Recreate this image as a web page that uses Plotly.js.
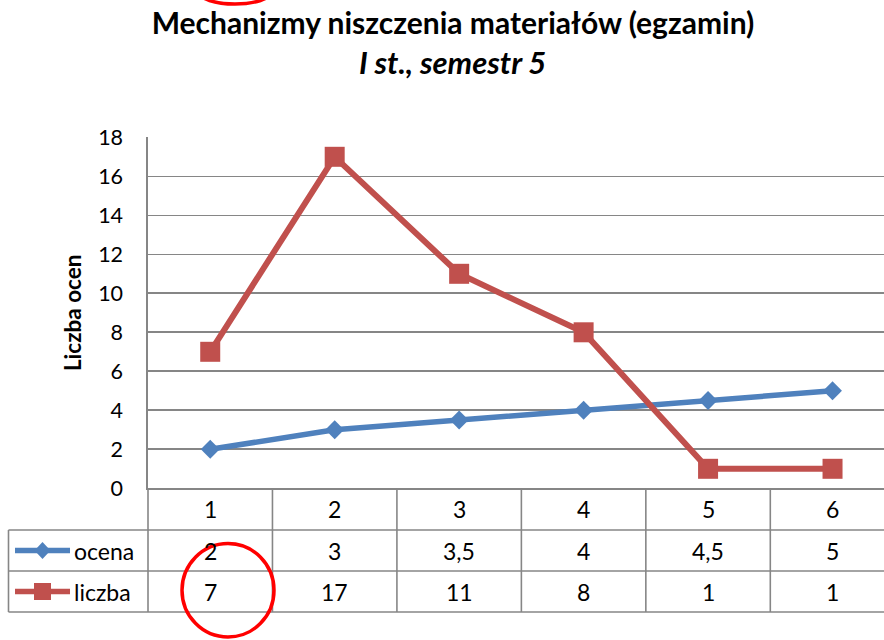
<!DOCTYPE html>
<html><head><meta charset="utf-8">
<script src="https://cdn.plot.ly/plotly-3.0.1.min.js"></script>
<style>html,body{margin:0;padding:0;background:#fff}#chart{width:884px;height:640px}</style>
</head><body><div id="chart"></div>
<script>
// ---- data ----
const categories = [1, 2, 3, 4, 5, 6];
const seriesNames = ['ocena', 'liczba'];
const ocena = [2, 3, 3.5, 4, 4.5, 5];
const liczba = [7, 17, 11, 8, 1, 1];
const yTicks = [0, 2, 4, 6, 8, 10, 12, 14, 16, 18];
const titleText = 'Mechanizmy niszczenia materiałów (egzamin)';
const subtitleText = 'I st., semestr 5';
const yTitle = 'Liczba ocen';

// ---- layout helpers (pixel -> paper) ----
const W = 884, H = 640;
const px = x => x / W;
const py = y => 1 - y / H;
const FONT = 'Lato, "Open Sans", sans-serif';
const GRID = '#868686';
const BLUE = '#4F81BD', RED = '#C0504D';
const fmt = v => String(v).replace('.', ',');

const plotLeft = 148, plotTop = 137.3, plotBottom = 488.3, catW = 124.46;
const rowTops = [488.3, 530, 571, 612];

const traces = [
  {x: categories, y: ocena, name: seriesNames[0], type: 'scatter', mode: 'lines+markers',
   line: {color: BLUE, width: 5.5}, marker: {symbol: 'diamond', size: 14.5, color: BLUE},
   showlegend: false, cliponaxis: false},
  {x: categories, y: liczba, name: seriesNames[1], type: 'scatter', mode: 'lines+markers',
   line: {color: RED, width: 6}, marker: {symbol: 'square', size: 20, color: RED},
   showlegend: false, cliponaxis: false}
];

const shapes = [];
const annotations = [];
const lineStyle = {color: GRID, width: 1.6};

// table horizontal lines
[rowTops[1], rowTops[2], rowTops[3]].forEach(yy => shapes.push({
  type: 'line', xref: 'paper', yref: 'paper', x0: px(8.5), x1: 1, y0: py(yy), y1: py(yy), line: lineStyle}));
// left border of legend column
shapes.push({type: 'line', xref: 'paper', yref: 'paper', x0: px(8.5), x1: px(8.5),
  y0: py(rowTops[1]), y1: py(rowTops[3]), line: lineStyle});
// left border of the value columns
shapes.push({type: 'line', xref: 'paper', yref: 'paper', x0: px(plotLeft), x1: px(plotLeft),
  y0: py(rowTops[0]), y1: py(rowTops[3]), line: lineStyle});
// category boundaries
categories.forEach(c => shapes.push({type: 'line', xref: 'x', yref: 'paper', x0: c + 0.5, x1: c + 0.5,
  y0: py(rowTops[0]), y1: py(rowTops[3]), line: lineStyle}));

// table text
const cellFont = {family: FONT, size: 23, color: '#000'};
const rowMid = i => py((rowTops[i] + rowTops[i + 1]) / 2);
const cell = (x, y, text) => ({xref: 'x', yref: 'paper', x: x, y: y, text: text, showarrow: false,
  xanchor: 'center', yanchor: 'middle', font: cellFont});
categories.forEach((c, i) => {
  annotations.push(cell(c, rowMid(0), String(c)));
  annotations.push(cell(c, rowMid(1), fmt(ocena[i])));
  annotations.push(cell(c, rowMid(2), fmt(liczba[i])));
});

// legend keys in the table
const keyColors = [BLUE, RED];
seriesNames.forEach((n, k) => {
  const cy = (rowTops[k + 1] + rowTops[k + 2]) / 2;
  shapes.push({type: 'line', xref: 'paper', yref: 'paper', x0: px(15), x1: px(70), y0: py(cy), y1: py(cy),
    line: {color: keyColors[k], width: 5.5}});
  if (k === 0) {
    const cx = 42.5, hw = 8, hh = 8.5;
    shapes.push({type: 'path', xref: 'paper', yref: 'paper',
      path: `M ${px(cx)},${py(cy - hh)} L ${px(cx + hw)},${py(cy)} L ${px(cx)},${py(cy + hh)} L ${px(cx - hw)},${py(cy)} Z`,
      fillcolor: keyColors[k], line: {width: 0}});
  } else {
    const cx = 42.5, h = 8.5;
    shapes.push({type: 'rect', xref: 'paper', yref: 'paper', x0: px(cx - h), x1: px(cx + h), y0: py(cy + h), y1: py(cy - h),
      fillcolor: keyColors[k], line: {width: 0}});
  }
  annotations.push({xref: 'paper', yref: 'paper', x: px(72), y: py(cy), xanchor: 'left', yanchor: 'middle',
    text: n, showarrow: false, font: cellFont});
});

// subtitle
annotations.push({xref: 'paper', yref: 'paper', x: px(453), y: py(62), xanchor: 'center', yanchor: 'middle',
  text: '<b><i>' + subtitleText + '</i></b>', showarrow: false, font: {family: FONT, size: 31, color: '#000'}});

// red hand-drawn markup circles
shapes.push({type: 'circle', xref: 'paper', yref: 'paper', x0: px(182), x1: px(274), y0: py(637), y1: py(543.5),
  line: {color: '#FF0000', width: 3.5}});
shapes.push({type: 'circle', xref: 'paper', yref: 'paper', x0: px(199), x1: px(271), y0: py(4), y1: py(-20),
  line: {color: '#FF0000', width: 3.5}});

const layout = {
  width: W, height: H,
  margin: {l: 0, r: 0, t: 0, b: 0},
  paper_bgcolor: '#fff', plot_bgcolor: '#fff',
  showlegend: false,
  title: {text: '<b>' + titleText + '</b>',
    font: {family: FONT, size: 30, color: '#000'}, x: px(453), xanchor: 'center',
    yref: 'container', y: py(23), yanchor: 'middle'},
  xaxis: {domain: [px(plotLeft), 1], range: [0.5, 0.5 + (W - plotLeft) / catW],
    showgrid: false, zeroline: false, showticklabels: false, ticks: '',
    showline: true, linecolor: GRID, linewidth: 1.6, fixedrange: true},
  yaxis: {domain: [py(plotBottom), py(plotTop)], range: [0, 18], tickvals: yTicks,
    showgrid: true, gridcolor: GRID, gridwidth: 1.6, zeroline: false,
    showline: true, linecolor: GRID, linewidth: 1.6, ticks: '', ticklabelstandoff: 19,
    tickfont: {family: FONT, size: 21.5, color: '#000'},
    title: {text: '<b>' + yTitle + '</b>', font: {family: FONT, size: 22.5, color: '#000'}, standoff: 10},
    fixedrange: true},
  shapes: shapes,
  annotations: annotations
};

Plotly.newPlot('chart', traces, layout, {displayModeBar: false, staticPlot: true});
</script>
</body></html>
